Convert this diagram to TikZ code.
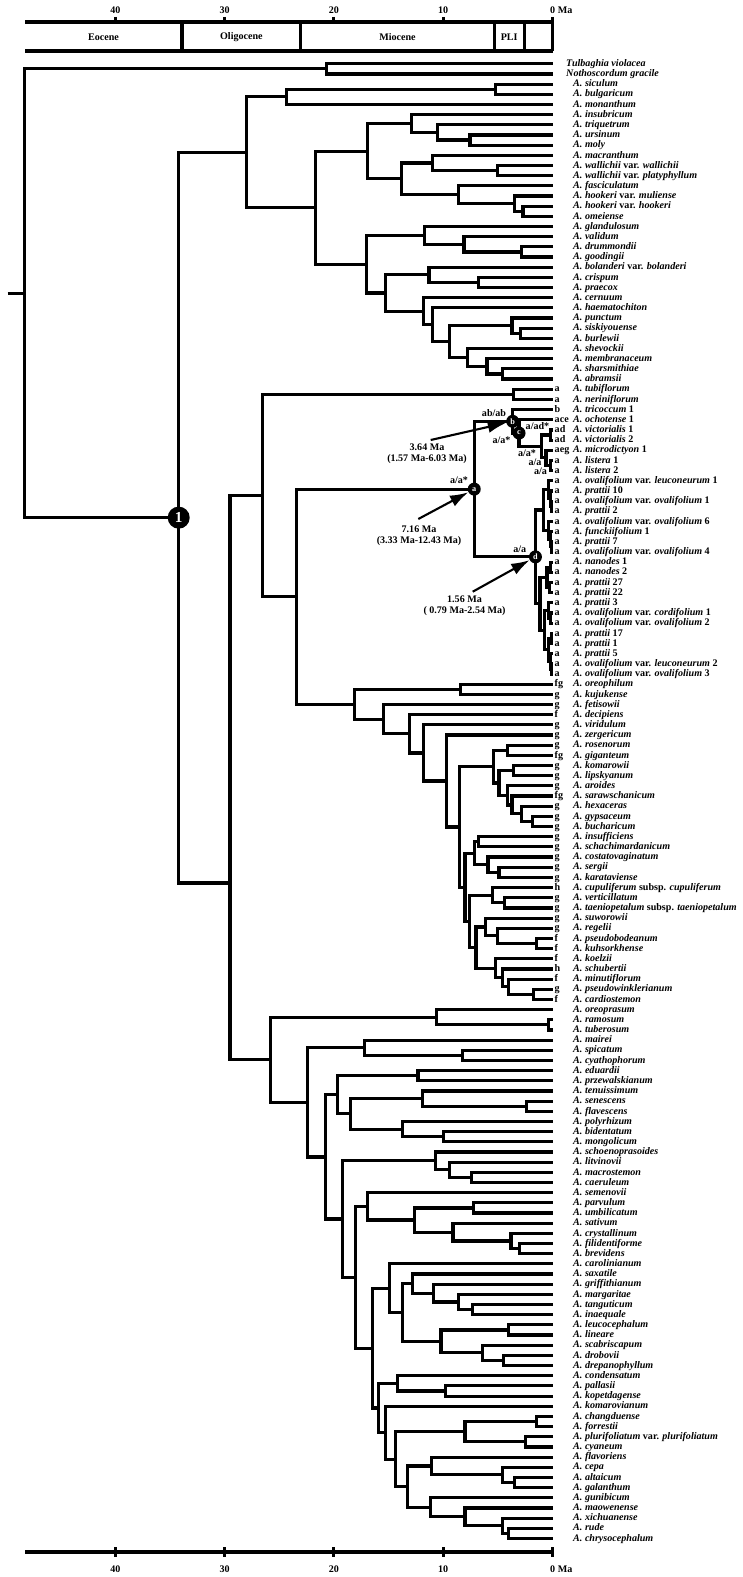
\documentclass[tikz,border=0pt]{standalone}
\usepackage{fontspec}
\setmainfont{Liberation Serif}
\usetikzlibrary{calc,arrows.meta}

\tikzset{
  branch/.style={line width=2.7pt},
  basefont/.style={font=\fontsize{8.6}{9.4}\selectfont\bfseries},
  tiplabel/.style={basefont, anchor=mid west, inner sep=0pt},
  statelabel/.style={basefont, anchor=mid west, inner sep=0pt},
  nodelabel/.style={basefont, inner sep=0pt},
  datetext/.style={basefont, align=center, inner sep=0pt},
  bignode/.style={circle, fill=black, text=white, minimum size=0.66cm, inner sep=0pt,
    font=\fontsize{13}{13}\selectfont\bfseries},
  smallnode/.style={circle, fill=black, text=white, minimum size=0.39cm, inner sep=0pt,
    font=\fontsize{7}{7}\selectfont\bfseries},
  datearrow/.style={line width=1.8pt, -{Latex[length=0.55cm, width=0.36cm]}},
}

% tip of row #1, label #2
\newcommand{\taxon}[2]{%
  \coordinate (t#1) at (552.5, {53.63+10.17*#1});
  \node[tiplabel] (n#1) at (573, {53.63+10.17*#1}) {#2};
}
% tip of row #1, state #2, label #3
\newcommand{\taxonst}[3]{%
  \coordinate (t#1) at (552.5, {53.63+10.17*#1});
  \node[statelabel] (s#1) at (554.5, {53.63+10.17*#1}) {#2};
  \node[tiplabel] (n#1) at (573, {53.63+10.17*#1}) {#3};
}
% clade #1 at age #2 (Ma) joining #3 and #4
\newcommand{\clade}[4]{%
  \pgfmathsetmacro{\cladex}{0.03*(552.5-10.93*#2)}
  \path let \p1 = ($(#3)!0.5!(#4)$) in (\cladex cm, \y1) coordinate (#1);
  \draw[branch] (#1) |- (#3);
  \draw[branch] (#1) |- (#4);
}
\newcommand{\allium}[1]{\textit{A. #1}}

\begin{document}
\begin{tikzpicture}[x=0.03cm, y=-0.03cm]
  \useasboundingbox (0,0) rectangle (742,1577);

  % epoch bar
  \draw[branch] (25,22) -- (552.5,22);
  \draw[branch] (25,51) -- (552.5,51);
  \draw[branch] (182,22) -- (182,51);
  \draw[branch] (300.8,22) -- (300.8,51);
  \draw[branch] (494.2,22) -- (494.2,51);
  \draw[branch] (524.3,22) -- (524.3,51);
  \draw[branch] (552.5,17) -- (552.5,51);
  \draw[branch] (115.3,17) -- (115.3,22);
  \draw[branch] (224.6,17) -- (224.6,22);
  \draw[branch] (333.9,17) -- (333.9,22);
  \draw[branch] (443.2,17) -- (443.2,22);
  \node[basefont, anchor=base] (top40) at (115.3,13.4) {40};
  \node[basefont, anchor=base] (top30) at (224.6,13.4) {30};
  \node[basefont, anchor=base] (top20) at (333.9,13.4) {20};
  \node[basefont, anchor=base] (top10) at (443.2,13.4) {10};
  \node[basefont, anchor=base west, inner sep=0pt] (top0) at (550,13.4) {0 Ma};
  \node[basefont] (eocene) at (103.5,37) {Eocene};
  \node[basefont] (oligocene) at (241.4,37) {Oligocene};
  \node[basefont] (miocene) at (397.5,37) {Miocene};
  \node[basefont] (pli) at (509.2,37) {PLI};

  % bottom axis
  \draw[branch] (25,1552) -- (552.5,1552);
  \draw[branch] (115.3,1547) -- (115.3,1557);
  \draw[branch] (224.6,1547) -- (224.6,1557);
  \draw[branch] (333.9,1547) -- (333.9,1557);
  \draw[branch] (443.2,1547) -- (443.2,1557);
  \draw[branch] (552.5,1547) -- (552.5,1557);
  \node[basefont, anchor=base] (bot40) at (115.3,1572.5) {40};
  \node[basefont, anchor=base] (bot30) at (224.6,1572.5) {30};
  \node[basefont, anchor=base] (bot20) at (333.9,1572.5) {20};
  \node[basefont, anchor=base] (bot10) at (443.2,1572.5) {10};
  \node[basefont, anchor=base west, inner sep=0pt] (bot0) at (550,1572.5) {0 Ma};

  % taxa
  \coordinate (t1) at (552.5, {53.63+10.17*1});
  \node[tiplabel] (n1) at (566, {53.63+10.17*1}) {\textit{Tulbaghia violacea}};
  \coordinate (t2) at (552.5, {53.63+10.17*2});
  \node[tiplabel] (n2) at (566, {53.63+10.17*2}) {\textit{Nothoscordum gracile}};
  \taxon{3}{\allium{siculum}}
  \taxon{4}{\allium{bulgaricum}}
  \taxon{5}{\allium{monanthum}}
  \taxon{6}{\allium{insubricum}}
  \taxon{7}{\allium{triquetrum}}
  \taxon{8}{\allium{ursinum}}
  \taxon{9}{\allium{moly}}
  \taxon{10}{\allium{macranthum}}
  \taxon{11}{\allium{wallichii} var. \textit{wallichii}}
  \taxon{12}{\allium{wallichii} var. \textit{platyphyllum}}
  \taxon{13}{\allium{fasciculatum}}
  \taxon{14}{\allium{hookeri} var. \textit{muliense}}
  \taxon{15}{\allium{hookeri} var. \textit{hookeri}}
  \taxon{16}{\allium{omeiense}}
  \taxon{17}{\allium{glandulosum}}
  \taxon{18}{\allium{validum}}
  \taxon{19}{\allium{drummondii}}
  \taxon{20}{\allium{goodingii}}
  \taxon{21}{\allium{bolanderi} var. \textit{bolanderi}}
  \taxon{22}{\allium{crispum}}
  \taxon{23}{\allium{praecox}}
  \taxon{24}{\allium{cernuum}}
  \taxon{25}{\allium{haematochiton}}
  \taxon{26}{\allium{punctum}}
  \taxon{27}{\allium{siskiyouense}}
  \taxon{28}{\allium{burlewii}}
  \taxon{29}{\allium{shevockii}}
  \taxon{30}{\allium{membranaceum}}
  \taxon{31}{\allium{sharsmithiae}}
  \taxon{32}{\allium{abramsii}}
  \taxonst{33}{a}{\allium{tubiflorum}}
  \taxonst{34}{a}{\allium{neriniflorum}}
  \taxonst{35}{b}{\allium{tricoccum} 1}
  \taxonst{36}{ace}{\allium{ochotense} 1}
  \taxonst{37}{ad}{\allium{victorialis} 1}
  \taxonst{38}{ad}{\allium{victorialis} 2}
  \taxonst{39}{aeg}{\allium{microdictyon} 1}
  \taxonst{40}{a}{\allium{listera} 1}
  \taxonst{41}{a}{\allium{listera} 2}
  \taxonst{42}{a}{\allium{ovalifolium} var. \textit{leuconeurum} 1}
  \taxonst{43}{a}{\allium{prattii} 10}
  \taxonst{44}{a}{\allium{ovalifolium} var. \textit{ovalifolium} 1}
  \taxonst{45}{a}{\allium{prattii} 2}
  \taxonst{46}{a}{\allium{ovalifolium} var. \textit{ovalifolium} 6}
  \taxonst{47}{a}{\allium{funckiifolium} 1}
  \taxonst{48}{a}{\allium{prattii} 7}
  \taxonst{49}{a}{\allium{ovalifolium} var. \textit{ovalifolium} 4}
  \taxonst{50}{a}{\allium{nanodes} 1}
  \taxonst{51}{a}{\allium{nanodes} 2}
  \taxonst{52}{a}{\allium{prattii} 27}
  \taxonst{53}{a}{\allium{prattii} 22}
  \taxonst{54}{a}{\allium{prattii} 3}
  \taxonst{55}{a}{\allium{ovalifolium} var. \textit{cordifolium} 1}
  \taxonst{56}{a}{\allium{ovalifolium} var. \textit{ovalifolium} 2}
  \taxonst{57}{a}{\allium{prattii} 17}
  \taxonst{58}{a}{\allium{prattii} 1}
  \taxonst{59}{a}{\allium{prattii} 5}
  \taxonst{60}{a}{\allium{ovalifolium} var. \textit{leuconeurum} 2}
  \taxonst{61}{a}{\allium{ovalifolium} var. \textit{ovalifolium} 3}
  \taxonst{62}{fg}{\allium{oreophilum}}
  \taxonst{63}{g}{\allium{kujukense}}
  \taxonst{64}{g}{\allium{fetisowii}}
  \taxonst{65}{f}{\allium{decipiens}}
  \taxonst{66}{g}{\allium{viridulum}}
  \taxonst{67}{g}{\allium{zergericum}}
  \taxonst{68}{g}{\allium{rosenorum}}
  \taxonst{69}{fg}{\allium{giganteum}}
  \taxonst{70}{g}{\allium{komarowii}}
  \taxonst{71}{g}{\allium{lipskyanum}}
  \taxonst{72}{g}{\allium{aroides}}
  \taxonst{73}{fg}{\allium{sarawschanicum}}
  \taxonst{74}{g}{\allium{hexaceras}}
  \taxonst{75}{g}{\allium{gypsaceum}}
  \taxonst{76}{g}{\allium{bucharicum}}
  \taxonst{77}{g}{\allium{insufficiens}}
  \taxonst{78}{g}{\allium{schachimardanicum}}
  \taxonst{79}{g}{\allium{costatovaginatum}}
  \taxonst{80}{g}{\allium{sergii}}
  \taxonst{81}{g}{\allium{karataviense}}
  \taxonst{82}{h}{\allium{cupuliferum} subsp. \textit{cupuliferum}}
  \taxonst{83}{g}{\allium{verticillatum}}
  \taxonst{84}{g}{\allium{taeniopetalum} subsp. \textit{taeniopetalum}}
  \taxonst{85}{g}{\allium{suworowii}}
  \taxonst{86}{g}{\allium{regelii}}
  \taxonst{87}{f}{\allium{pseudobodeanum}}
  \taxonst{88}{f}{\allium{kuhsorkhense}}
  \taxonst{89}{f}{\allium{koelzii}}
  \taxonst{90}{h}{\allium{schubertii}}
  \taxonst{91}{f}{\allium{minutiflorum}}
  \taxonst{92}{g}{\allium{pseudowinklerianum}}
  \taxonst{93}{f}{\allium{cardiostemon}}
  \taxon{94}{\allium{oreoprasum}}
  \taxon{95}{\allium{ramosum}}
  \taxon{96}{\allium{tuberosum}}
  \taxon{97}{\allium{mairei}}
  \taxon{98}{\allium{spicatum}}
  \taxon{99}{\allium{cyathophorum}}
  \taxon{100}{\allium{eduardii}}
  \taxon{101}{\allium{przewalskianum}}
  \taxon{102}{\allium{tenuissimum}}
  \taxon{103}{\allium{senescens}}
  \taxon{104}{\allium{flavescens}}
  \taxon{105}{\allium{polyrhizum}}
  \taxon{106}{\allium{bidentatum}}
  \taxon{107}{\allium{mongolicum}}
  \taxon{108}{\allium{schoenoprasoides}}
  \taxon{109}{\allium{litvinovii}}
  \taxon{110}{\allium{macrostemon}}
  \taxon{111}{\allium{caeruleum}}
  \taxon{112}{\allium{semenovii}}
  \taxon{113}{\allium{parvulum}}
  \taxon{114}{\allium{umbilicatum}}
  \taxon{115}{\allium{sativum}}
  \taxon{116}{\allium{crystallinum}}
  \taxon{117}{\allium{filidentiforme}}
  \taxon{118}{\allium{brevidens}}
  \taxon{119}{\allium{carolinianum}}
  \taxon{120}{\allium{saxatile}}
  \taxon{121}{\allium{griffithianum}}
  \taxon{122}{\allium{margaritae}}
  \taxon{123}{\allium{tanguticum}}
  \taxon{124}{\allium{inaequale}}
  \taxon{125}{\allium{leucocephalum}}
  \taxon{126}{\allium{lineare}}
  \taxon{127}{\allium{scabriscapum}}
  \taxon{128}{\allium{drobovii}}
  \taxon{129}{\allium{drepanophyllum}}
  \taxon{130}{\allium{condensatum}}
  \taxon{131}{\allium{pallasii}}
  \taxon{132}{\allium{kopetdagense}}
  \taxon{133}{\allium{komarovianum}}
  \taxon{134}{\allium{changduense}}
  \taxon{135}{\allium{forrestii}}
  \taxon{136}{\allium{plurifoliatum} var. \textit{plurifoliatum}}
  \taxon{137}{\allium{cyaneum}}
  \taxon{138}{\allium{flavoriens}}
  \taxon{139}{\allium{cepa}}
  \taxon{140}{\allium{altaicum}}
  \taxon{141}{\allium{galanthum}}
  \taxon{142}{\allium{gunibicum}}
  \taxon{143}{\allium{maowenense}}
  \taxon{144}{\allium{xichuanense}}
  \taxon{145}{\allium{rude}}
  \taxon{146}{\allium{chrysocephalum}}

  % outgroup and first line
  \clade{og}{20.66}{t1}{t2}
  \clade{sic}{5.2}{t3}{t4}
  \clade{sicm}{24.3}{sic}{t5}
  \clade{urs}{7.55}{t8}{t9}
  \clade{triq}{10.5}{t7}{urs}
  \clade{insu}{12.9}{t6}{triq}
  \clade{wal}{5.05}{t11}{t12}
  \clade{macr}{11.0}{t10}{wal}
  \clade{hoo2}{2.7}{t15}{t16}
  \clade{hoo}{3.5}{t14}{hoo2}
  \clade{fasc}{8.6}{t13}{hoo}
  \clade{macf}{13.8}{macr}{fasc}
  \clade{amA}{16.9}{insu}{macf}
  \clade{drgo}{2.8}{t19}{t20}
  \clade{vali}{8.1}{t18}{drgo}
  \clade{glan}{11.7}{t17}{vali}
  \clade{crpr}{6.8}{t22}{t23}
  \clade{bola}{11.3}{t21}{crpr}
  \clade{sibu}{2.9}{t27}{t28}
  \clade{punc}{3.7}{t26}{sibu}
  \clade{shab}{4.6}{t31}{t32}
  \clade{memb}{6.0}{t30}{shab}
  \clade{shev}{7.8}{t29}{memb}
  \clade{pusv}{9.4}{punc}{shev}
  \clade{haem}{11.0}{t25}{pusv}
  \clade{cern}{11.8}{t24}{haem}
  \clade{bocn}{15.3}{bola}{cern}
  \clade{amB}{17.0}{glan}{bocn}
  \clade{amC}{21.7}{amA}{amB}
  \clade{amer}{28.0}{sicm}{amC}

  % second line
  \clade{calo}{3.6}{t33}{t34}
  \clade{vict}{0.2}{t37}{t38}
  \clade{list}{0.15}{t40}{t41}
  \clade{micr}{0.6}{t39}{list}
  \clade{rest}{1.0}{vict}{micr}
  \clade{nc}{3.06}{t36}{rest}
  \clade{nb}{3.64}{t35}{nc}
  \clade{aoc}{0.1}{t44}{t45}
  \clade{aob}{0.2}{t43}{aoc}
  \clade{aoa}{0.35}{t42}{aob}
  \clade{atc}{0.1}{t48}{t49}
  \clade{atb}{0.2}{t47}{atc}
  \clade{ata}{0.35}{t46}{atb}
  \clade{gone}{0.85}{aoa}{ata}
  \clade{bna}{0.2}{t50}{t51}
  \clade{bnb}{0.25}{t52}{t53}
  \clade{bn}{0.5}{bna}{bnb}
  \clade{bcb}{0.15}{t55}{t56}
  \clade{bca}{0.35}{t54}{bcb}
  \clade{bpb}{0.1}{t57}{t58}
  \clade{bpc}{0.1}{t60}{t61}
  \clade{bpd}{0.2}{t59}{bpc}
  \clade{bp}{0.35}{bpb}{bpd}
  \clade{bcp}{0.7}{bca}{bp}
  \clade{gtwo}{1.15}{bn}{bcp}
  \clade{nd}{1.56}{gone}{gtwo}
  \clade{nang}{7.16}{nb}{nd}
  \clade{orku}{8.4}{t62}{t63}
  \clade{gyb}{1.85}{t75}{t76}
  \clade{hex}{2.8}{t74}{gyb}
  \clade{sar}{3.7}{t73}{hex}
  \clade{aro}{4.1}{t72}{sar}
  \clade{kol}{3.6}{t70}{t71}
  \clade{kla}{4.9}{kol}{aro}
  \clade{rogi}{4.1}{t68}{t69}
  \clade{wone}{5.4}{rogi}{kla}
  \clade{insc}{6.8}{t77}{t78}
  \clade{seka}{4.9}{t80}{t81}
  \clade{cost}{5.9}{t79}{seka}
  \clade{wtwa}{7.1}{insc}{cost}
  \clade{veta}{4.4}{t83}{t84}
  \clade{cupu}{5.5}{t82}{veta}
  \clade{psku}{1.45}{t87}{t88}
  \clade{rege}{5.0}{t86}{psku}
  \clade{suwo}{6.1}{t85}{rege}
  \clade{pwca}{1.75}{t92}{t93}
  \clade{minu}{4.0}{t91}{pwca}
  \clade{schu}{4.55}{t90}{minu}
  \clade{koel}{5.2}{t89}{schu}
  \clade{wtwd}{7.0}{suwo}{koel}
  \clade{wtwb}{7.6}{cupu}{wtwd}
  \clade{wtw}{8.0}{wtwa}{wtwb}
  \clade{wall}{8.5}{wone}{wtw}
  \clade{zerg}{9.7}{t67}{wall}
  \clade{viri}{11.8}{t66}{zerg}
  \clade{deci}{13.1}{t65}{viri}
  \clade{feti}{15.5}{t64}{deci}
  \clade{melk}{18.1}{orku}{feti}
  \clade{angm}{23.4}{nang}{melk}
  \clade{lineii}{26.5}{calo}{angm}

  % third line
  \clade{rat}{0.4}{t95}{t96}
  \clade{oreo}{10.6}{t94}{rat}
  \clade{spcy}{8.25}{t98}{t99}
  \clade{mair}{17.2}{t97}{spcy}
  \clade{edpr}{12.3}{t100}{t101}
  \clade{sefl}{2.4}{t103}{t104}
  \clade{tenu}{11.9}{t102}{sefl}
  \clade{bimo}{10.0}{t106}{t107}
  \clade{poly}{13.7}{t105}{bimo}
  \clade{tepo}{18.5}{tenu}{poly}
  \clade{edte}{19.7}{edpr}{tepo}
  \clade{maca}{7.4}{t110}{t111}
  \clade{litv}{9.4}{t109}{maca}
  \clade{scho}{10.7}{t108}{litv}
  \clade{paum}{7.2}{t113}{t114}
  \clade{fibr}{3.0}{t117}{t118}
  \clade{crys}{3.8}{t116}{fibr}
  \clade{sati}{9.1}{t115}{crys}
  \clade{paus}{12.6}{paum}{sati}
  \clade{seme}{16.9}{t112}{paus}
  \clade{tain}{7.3}{t123}{t124}
  \clade{marg}{8.6}{t122}{tain}
  \clade{grif}{10.9}{t121}{marg}
  \clade{saxa}{12.8}{t120}{grif}
  \clade{leli}{4.0}{t125}{t126}
  \clade{drdr}{4.5}{t128}{t129}
  \clade{scab}{6.4}{t127}{drdr}
  \clade{lesc}{10.2}{leli}{scab}
  \clade{saxl}{13.7}{saxa}{lesc}
  \clade{caro}{14.9}{t119}{saxl}
  \clade{pako}{9.8}{t131}{t132}
  \clade{cond}{14.2}{t130}{pako}
  \clade{chfo}{1.45}{t134}{t135}
  \clade{plcy}{2.5}{t136}{t137}
  \clade{chpl}{8.0}{chfo}{plcy}
  \clade{alga}{3.5}{t140}{t141}
  \clade{cepa}{4.55}{t139}{alga}
  \clade{flav}{11.05}{t138}{cepa}
  \clade{ruch}{4.0}{t145}{t146}
  \clade{xich}{4.55}{t144}{ruch}
  \clade{maow}{8.0}{t143}{xich}
  \clade{guni}{11.15}{t142}{maow}
  \clade{flgu}{13.3}{flav}{guni}
  \clade{chfl}{14.35}{chpl}{flgu}
  \clade{komv}{15.3}{t133}{chfl}
  \clade{cokm}{15.9}{cond}{komv}
  \clade{cacs}{16.5}{caro}{cokm}
  \clade{sesc}{18.0}{seme}{cacs}
  \clade{schs}{19.2}{scho}{sesc}
  \clade{qtwo}{20.8}{edte}{schs}
  \clade{qone}{22.4}{mair}{qtwo}
  \clade{lineiii}{25.8}{oreo}{qone}

  % node 1 and root
  \coordinate (nzero) at (230,883);
  \draw[branch] (nzero) |- (lineii);
  \draw[branch] (nzero) |- (lineiii);
  \clade{none}{34.2}{amer}{nzero}
  \clade{root}{48.3}{og}{none}
  \path (root) ++(-17,0) coordinate (rootstem);
  \draw[branch] (rootstem) -- (root);

  % dated nodes
  \node[bignode] (d1) at (none) {1};
  \node[smallnode] (da) at (nang) {a};
  \node[smallnode] (db) at (nb) {b};
  \node[smallnode] (dc) at (nc) {c};
  \node[smallnode] (dd) at (nd) {d};

  \node[nodelabel] (lab) at (494,413.3) {ab/ab};
  \node[nodelabel] (lad) at (537.5,425.7) {a/ad*};
  \node[nodelabel] (lc) at (501.5,440.7) {a/a*};
  \node[nodelabel] (lmi) at (527,453) {a/a*};
  \node[nodelabel] (lli) at (535,462.7) {a/a};
  \node[nodelabel] (llt) at (540.5,471.7) {a/a};
  \node[nodelabel] (la) at (459,480) {a/a*};
  \node[nodelabel] (ld) at (519.7,549) {a/a};

  \node[datetext] (date1) at (427,454) {3.64 Ma\\(1.57 Ma-6.03 Ma)};
  \node[datetext] (date2) at (419,535.3) {7.16 Ma\\(3.33 Ma-12.43 Ma)};
  \node[datetext] (date3) at (464.5,606) {1.56 Ma\\( 0.79 Ma-2.54 Ma)};
  \coordinate (tail1) at (430.7,440);
  \coordinate (tail2) at (418.3,519);
  \coordinate (tail3) at (472.7,591.7);
  \draw[datearrow] (tail1) -- (db);
  \draw[datearrow] (tail2) -- (da);
  \draw[datearrow] (tail3) -- (dd);
\end{tikzpicture}
\end{document}
